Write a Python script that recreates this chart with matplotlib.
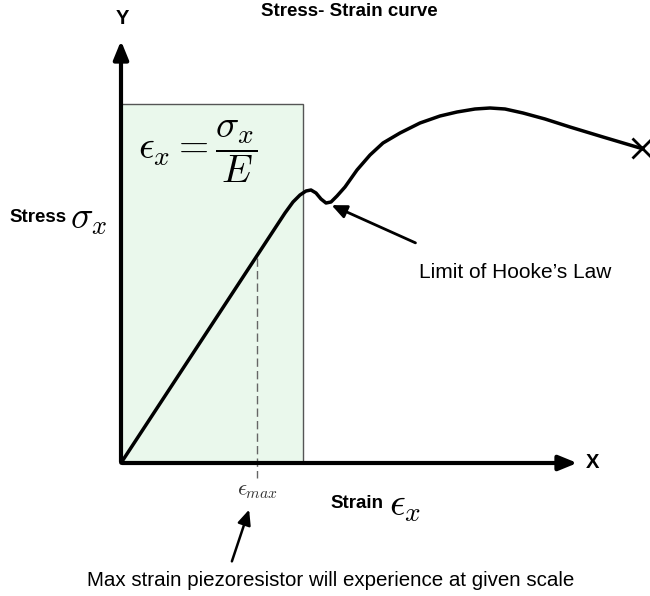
import matplotlib.pyplot as plt
from matplotlib.patches import Rectangle

plt.rcParams['font.family'] = ['Liberation Sans', 'DejaVu Sans']
plt.rcParams['mathtext.fontset'] = 'cm'

# curve (pixel coords, y downwards)
curve_x = [121, 285, 293, 300, 306, 311, 316, 321, 326, 331, 337, 345, 357, 370, 383, 400, 420, 440, 457, 475, 490, 505, 523, 545, 570, 603, 640]
curve_y = [463, 213, 202, 195, 191, 190, 193, 199, 203, 202, 196, 187, 170, 155, 143, 133, 123, 116, 112, 109, 108, 109, 113, 119, 127, 137, 148]

origin = (121, 463)
box_right, box_top = 303, 104
eps_max_x = 257

fig = plt.figure(figsize=(6.5, 5.96), dpi=100)
ax = fig.add_axes([0, 0, 1, 1])
ax.set_xlim(0, 650)
ax.set_ylim(596, 0)
ax.axis('off')

# linear region box
ax.add_patch(Rectangle((origin[0], box_top), box_right - origin[0], origin[1] - box_top,
                       facecolor='#eaf8ec', edgecolor='#555555', lw=1, zorder=1))

# axes arrows
ax.annotate('', xy=(origin[0], 38), xytext=(origin[0], origin[1] + 1.5),
            arrowprops=dict(arrowstyle='-|>,head_length=1.1,head_width=0.45', lw=3, color='black'), zorder=3)
ax.annotate('', xy=(580, origin[1]), xytext=(origin[0] - 1.5, origin[1]),
            arrowprops=dict(arrowstyle='-|>,head_length=1.1,head_width=0.45', lw=3, color='black'), zorder=3)
ax.text(122, 19, 'Y', fontsize=14.5, fontweight='bold', ha='center', va='center')
ax.text(593, 463, 'X', fontsize=14.5, fontweight='bold', ha='center', va='center')

# curve
ax.plot(curve_x, curve_y, color='black', lw=2.5, zorder=4, solid_capstyle='round')
ax.plot([curve_x[-1] + 2], [curve_y[-1]], marker='x', color='black', ms=14, mew=2, zorder=4)

# eps max line
ax.plot([eps_max_x, eps_max_x], [258, 478], color='#666666', lw=1, ls=(0, (6, 3)), zorder=2)
ax.text(eps_max_x + 1, 491, r'$\epsilon_{max}$', fontsize=16, ha='center', va='center', color='#333333')

# texts
ax.text(349, 12, 'Stress- Strain curve', fontsize=13.5, fontweight='bold', ha='center', va='center')
ax.text(198, 152, r'$\epsilon_x = \dfrac{\sigma_x}{E}$', fontsize=28, ha='center', va='center')
ax.text(9, 218, 'Stress', fontsize=13.5, fontweight='bold', ha='left', va='center')
ax.text(70, 219, r'$\sigma_x$', fontsize=27, ha='left', va='center')
ax.text(330, 503, 'Strain', fontsize=13.5, fontweight='bold', ha='left', va='center')
ax.text(389, 506, r'$\epsilon_x$', fontsize=28, ha='left', va='center')
ax.text(419, 272, "Limit of Hooke\u2019s Law", fontsize=15, ha='left', va='center')
ax.text(331, 581, 'Max strain piezoresistor will experience at given scale', fontsize=14.8, ha='center', va='center')

# pointer arrows
ax.annotate('', xy=(329, 204), xytext=(418, 244),
            arrowprops=dict(arrowstyle='-|>,head_length=0.9,head_width=0.4', lw=2, color='black'))
ax.annotate('', xy=(250, 507), xytext=(231, 564),
            arrowprops=dict(arrowstyle='-|>,head_length=0.9,head_width=0.4', lw=1.8, color='black'))

fig.savefig('out.png', dpi=100)
